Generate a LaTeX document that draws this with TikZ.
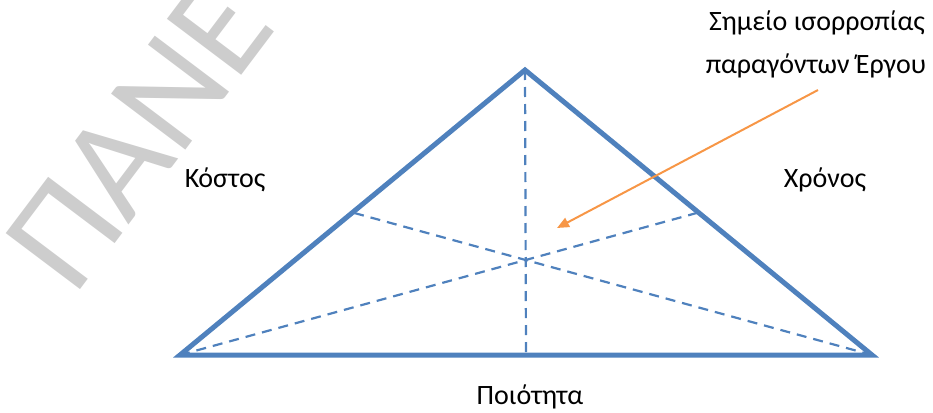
\documentclass[tikz,border=0pt]{standalone}
\usepackage{fontspec}
\setmainfont{Carlito}
\usetikzlibrary{arrows.meta,calc}
\definecolor{triblue}{RGB}{79,129,189}
\definecolor{arrorange}{RGB}{247,150,70}
\definecolor{wmgray}{RGB}{205,205,205}
\tikzset{
  side/.style={draw=triblue, line width=5pt, line join=miter},
  median/.style={draw=triblue, line width=2.2pt, dash pattern=on 10pt off 7pt},
  lbl/.style={font=\fontsize{28}{33}\selectfont, text=black, inner sep=0pt, anchor=base},
  pointer/.style={draw=arrorange, line width=2pt, -{Triangle[length=12pt,width=10pt]}},
  wm/.style={font=\fontsize{145}{170}\selectfont, text=wmgray, inner sep=0pt, anchor=base west, rotate=53}
}
\begin{document}
\begin{tikzpicture}[x=1pt,y=-1pt]
\useasboundingbox (0,0) rectangle (933,412);
\begin{scope}
\clip (0,0) rectangle (933,412);
\node[wm] (wmark) at (74,298) {ΠΑΝΕ};
\end{scope}
\coordinate (A) at (525,70);
\coordinate (L) at (180,355);
\coordinate (R) at (872,355);
\coordinate (mL) at ($(A)!0.5!(L)$);
\coordinate (mR) at ($(A)!0.5!(R)$);
\coordinate (mB) at ($(L)!0.5!(R)$);
\draw[median] (A) -- (mB);
\draw[median] (L) -- (mR);
\draw[median] (R) -- (mL);
\draw[side] (A) -- (L) -- (R) -- cycle;
\node[lbl] (cost) at (225,187) {Κόστος};
\node[lbl] (time) at (825,187) {Χρόνος};
\node[lbl] (qual) at (530,404) {Ποιότητα};
\node[lbl] (bal1) at (817,31) {Σημείο ισορροπίας};
\node[lbl] (bal2) at (816,74) {παραγόντων Έργου};
\coordinate (arrStart) at (818,90);
\coordinate (arrEnd) at (557,228);
\draw[pointer] (arrStart) -- (arrEnd);
\end{tikzpicture}
\end{document}
